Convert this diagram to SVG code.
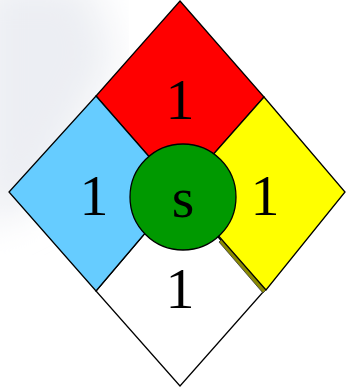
<svg xmlns="http://www.w3.org/2000/svg" width="346" height="390" viewBox="0 0 346 390">
<defs>
<style>
.q{stroke:#000;stroke-width:1.3;stroke-linejoin:miter}
.t{font-family:"Liberation Serif","Times New Roman",serif;font-size:58px;fill:#000;text-anchor:middle}
</style>
<filter id="blur"><feGaussianBlur stdDeviation="20"/></filter>
</defs>
<rect width="346" height="390" fill="#fff"/>
<path d="M-20,-20 L90,-20 L115,60 L40,200 L-20,230 Z" fill="#eceef3" filter="url(#blur)"/>
<g id="white"><polygon class="q" points="180,192 264,291 180,386 96,291" fill="#fff"/><text class="t" x="180" y="308">1</text></g>
<g id="red"><polygon class="q" points="180,1 264,97 180,192 96,96" fill="#f00"/><text class="t" x="180" y="119">1</text></g>
<g id="blue"><polygon class="q" points="96,96 180,192 96,291 9,192" fill="#66ccff"/><text class="t" x="94" y="215">1</text></g>
<g id="yellow"><polygon points="222,239 266,290 263,293 219,242" fill="#8a8a00" stroke="#333" stroke-width="0.8"/><polygon class="q" points="264,97 345,192 266,290 180,192" fill="#ff0"/><text class="t" x="265" y="215">1</text></g>
<g id="center"><circle class="q" cx="183" cy="197" r="53" fill="#009900"/><text class="t" x="183" y="217">s</text></g>
</svg>
